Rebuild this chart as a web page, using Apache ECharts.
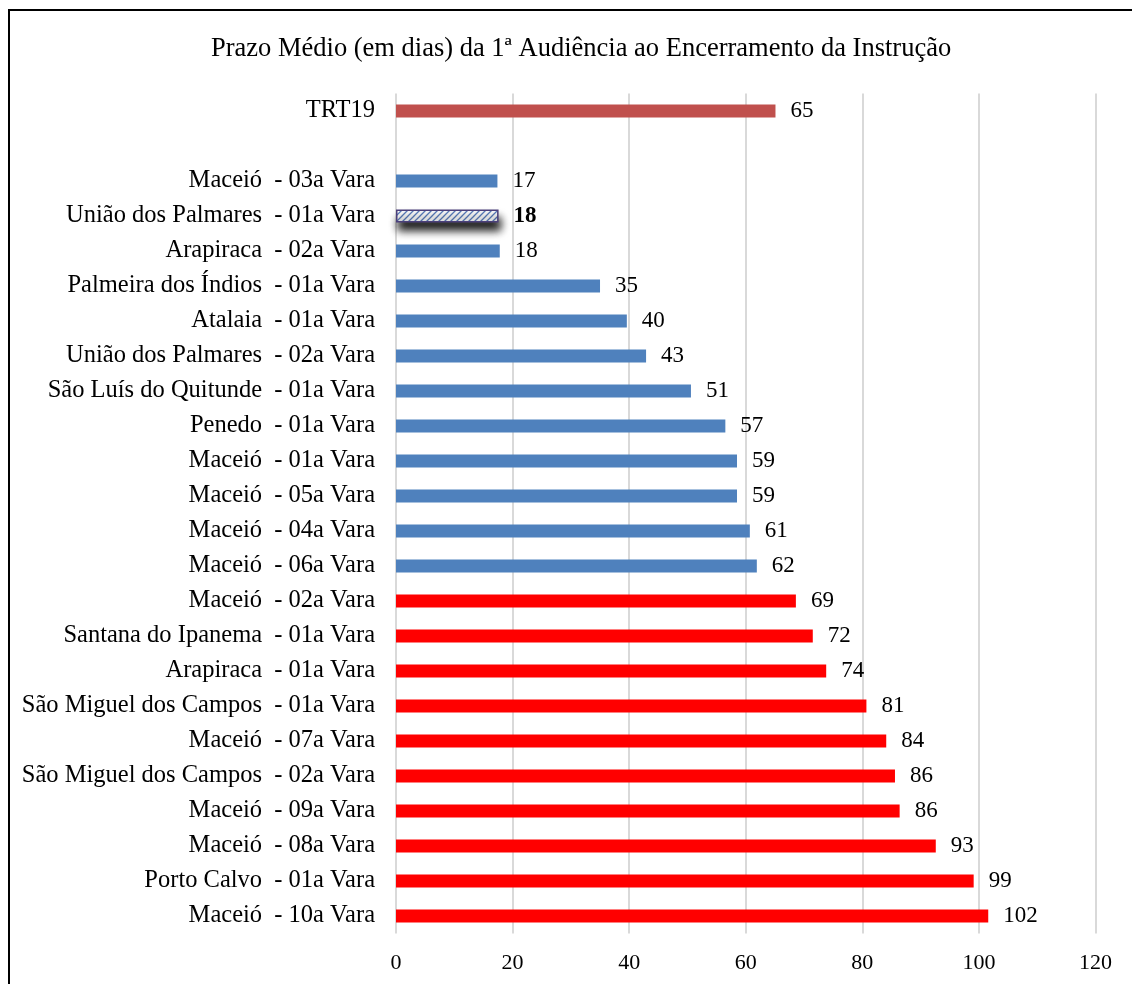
<!DOCTYPE html>
<html>
<head>
<meta charset="utf-8">
<script src="https://cdn.jsdelivr.net/npm/echarts@6/dist/echarts.min.js"></script>
<style>
  html, body { margin: 0; padding: 0; background: #fff; }
  #frame { position: absolute; left: 8px; top: 9px; width: 1140px; height: 1000px; border-left: 2.5px solid #000; border-top: 2.5px solid #000; box-sizing: border-box; }
  #chart { position: absolute; left: 0; top: 0; width: 1132px; height: 984px; }
</style>
</head>
<body>
<div id="frame"></div>
<div id="chart"></div>
<script>
const titleText = 'Prazo Médio (em dias) da 1ª Audiência ao Encerramento da Instrução';
const categories = [
  'TRT19', '',
  'Maceió  - 03a Vara',
  'União dos Palmares  - 01a Vara',
  'Arapiraca  - 02a Vara',
  'Palmeira dos Índios  - 01a Vara',
  'Atalaia  - 01a Vara',
  'União dos Palmares  - 02a Vara',
  'São Luís do Quitunde  - 01a Vara',
  'Penedo  - 01a Vara',
  'Maceió  - 01a Vara',
  'Maceió  - 05a Vara',
  'Maceió  - 04a Vara',
  'Maceió  - 06a Vara',
  'Maceió  - 02a Vara',
  'Santana do Ipanema  - 01a Vara',
  'Arapiraca  - 01a Vara',
  'São Miguel dos Campos  - 01a Vara',
  'Maceió  - 07a Vara',
  'São Miguel dos Campos  - 02a Vara',
  'Maceió  - 09a Vara',
  'Maceió  - 08a Vara',
  'Porto Calvo  - 01a Vara',
  'Maceió  - 10a Vara'
];
const values = [
  65.1, null,
  17.4, 17.6, 17.8, 35.0, 39.6, 42.9, 50.6, 56.5, 58.5, 58.5, 60.7, 61.9,
  68.6, 71.5, 73.8, 80.7, 84.1, 85.6, 86.4, 92.6, 99.1, 101.6
];
const groups = [
  'total', 'none',
  'below', 'highlight', 'below', 'below', 'below', 'below', 'below', 'below', 'below', 'below', 'below', 'below',
  'above', 'above', 'above', 'above', 'above', 'above', 'above', 'above', 'above', 'above'
];
const xTicks = [0, 20, 40, 60, 80, 100, 120];

const FONT = '"Liberation Serif", "Times New Roman", serif';

function hatchPattern() {
  const c = document.createElement('canvas');
  c.width = 6; c.height = 6;
  const g = c.getContext('2d');
  g.fillStyle = '#ffffff';
  g.fillRect(0, 0, 6, 6);
  g.strokeStyle = '#5B7FC0';
  g.lineWidth = 1.3;
  g.beginPath();
  g.moveTo(-1, 7); g.lineTo(7, -1);
  g.moveTo(-4, 4); g.lineTo(4, -4);
  g.moveTo(2, 10); g.lineTo(10, 2);
  g.stroke();
  return c;
}

const styleByGroup = {
  total: { color: '#C0504D' },
  below: { color: '#4F81BD' },
  above: { color: '#FF0000' },
  highlight: {
    color: { image: hatchPattern(), repeat: 'repeat' },
    borderColor: '#4B3F7A', borderWidth: 1.5,
    shadowColor: 'rgba(0,0,0,0.95)', shadowBlur: 8, shadowOffsetX: 2, shadowOffsetY: 8
  },
  none: { color: 'transparent' }
};

const seriesData = values.map((v, i) => {
  const item = { value: v, itemStyle: styleByGroup[groups[i]] };
  if (groups[i] === 'highlight') item.label = { fontWeight: 'bold' };
  return item;
});

const chart = echarts.init(document.getElementById('chart'), null, { renderer: 'canvas' });
chart.setOption({
  animation: false,
  backgroundColor: 'transparent',
  title: {
    text: titleText, left: 206, top: 31,
    textStyle: { fontFamily: FONT, fontSize: 26.5, fontWeight: 'normal', color: '#000' }
  },
  grid: { left: 396, right: 36.5, top: 93.5, bottom: 50.5, containLabel: false },
  xAxis: {
    type: 'value', min: xTicks[0], max: xTicks[xTicks.length - 1], interval: 20,
    axisLine: { show: false }, axisTick: { show: false },
    splitLine: { show: true, lineStyle: { color: '#D9D9D9', width: 2 } },
    axisLabel: { fontFamily: FONT, fontSize: 22, color: '#000', margin: 19 }
  },
  yAxis: {
    type: 'category', data: categories, inverse: true,
    axisLine: { show: false }, axisTick: { show: false },
    axisLabel: { fontFamily: FONT, fontSize: 24.5, color: '#000', margin: 21 }
  },
  series: [{
    type: 'bar', data: seriesData, barWidth: 13,
    label: {
      show: true, position: 'right', distance: 15,
      fontFamily: FONT, fontSize: 23, color: '#000',
      formatter: p => (p.value == null ? '' : Math.round(p.value))
    }
  }]
});
</script>
</body>
</html>
